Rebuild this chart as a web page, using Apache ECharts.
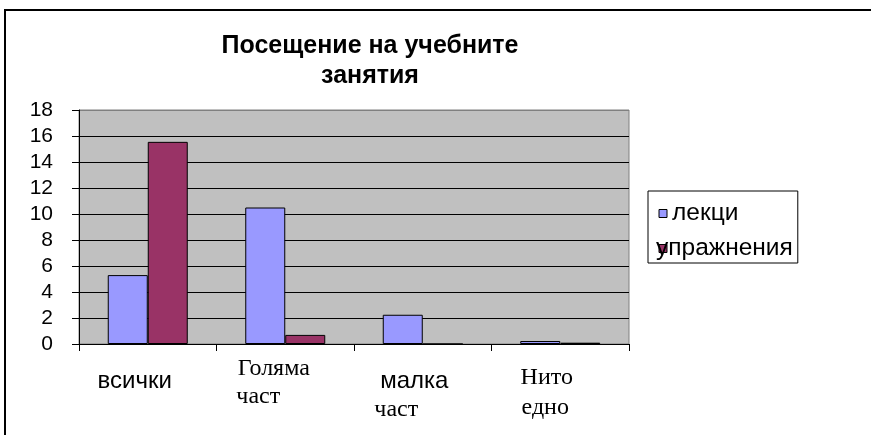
<!DOCTYPE html>
<html>
<head>
<meta charset="utf-8">
<script src="https://cdn.jsdelivr.net/npm/echarts@6/dist/echarts.min.js"></script>
<style>
html,body{margin:0;padding:0;background:#fff;}
#chart{width:871px;height:435px;}
</style>
</head>
<body>
<div id="chart"></div>
<script>
// ---- data ----
const titleText = 'Посещение на учебните\nзанятия';
const categories = ['всички', 'Голяма част', 'малка част', 'Нито едно'];
const seriesNames = ['лекци', 'упражнения'];
const lekci = [5.3, 10.5, 2.25, 0.23];
const uprazhnenia = [15.55, 0.7, 0, 0.1];
const yMin = 0, yMax = 18, yStep = 2;

// ---- x label rich text (mixed fonts as in the original) ----
const xLabelRich = [
  '{sans|всички}{g0| }',
  '{ser1|Голяма}{g1| }\n{ser2|част}{g2| }',
  '{sans3|малка}{g3| }\n{ser4|част}{g4| }',
  '{ser5|Нито}{g5| }\n{ser6|едно}{g6| }'
];

const chart = echarts.init(document.getElementById('chart'), null, {renderer: 'canvas'});
const splitColors = [];
for (let v = yMin; v <= yMax; v += yStep) splitColors.push(v === yMax ? '#808080' : '#000000');

chart.setOption({
  animation: false,
  backgroundColor: '#ffffff',
  title: {
    text: titleText,
    left: 370,
    top: 31,
    textAlign: 'center',
    padding: 0,
    textStyle: {fontFamily: 'Liberation Sans', fontWeight: 'bold', fontSize: 25, lineHeight: 30, color: '#000'}
  },
  legend: {
    orient: 'vertical',
    left: 648,
    top: 191,
    padding: [10, 5, 2, 8],
    itemWidth: 8,
    itemHeight: 8,
    itemGap: 10,
    borderColor: '#000',
    borderWidth: 1,
    backgroundColor: '#fff',
    icon: 'rect',
    itemStyle: {borderColor: '#000', borderWidth: 1},
    textStyle: {fontFamily: 'Liberation Sans', fontSize: 24.5, lineHeight: 24, color: '#000'},
    data: [
      {name: seriesNames[0]},
      {name: seriesNames[1], textStyle: {padding: [0, 0, 0, -16]}}
    ]
  },
  grid: {
    left: 79, top: 110, width: 550, height: 234,
    show: true, backgroundColor: '#C0C0C0', borderColor: '#808080', borderWidth: 1,
    containLabel: false
  },
  xAxis: {
    type: 'category',
    data: categories,
    boundaryGap: true,
    axisLine: {show: true, lineStyle: {color: '#000', width: 1}},
    axisTick: {show: true, length: 7, alignWithLabel: false, lineStyle: {color: '#000'}},
    axisLabel: {
      margin: 10,
      interval: 0,
      align: 'center',
      verticalAlign: 'top',
      color: '#000',
      formatter: function (v, i) { return xLabelRich[i]; },
      rich: {
        sans: {fontFamily: 'Liberation Sans', fontSize: 24, lineHeight: 54, color: '#000'},
        g0: {width: 26, lineHeight: 54},
        ser1: {fontFamily: 'Liberation Serif', fontSize: 24, lineHeight: 30, color: '#000'},
        g1: {width: 23, lineHeight: 30},
        ser2: {fontFamily: 'Liberation Serif', fontSize: 24, lineHeight: 26, color: '#000'},
        g2: {width: 54, lineHeight: 26},
        sans3: {fontFamily: 'Liberation Sans', fontSize: 24, lineHeight: 54, color: '#000'},
        g3: {width: 17, lineHeight: 54},
        ser4: {fontFamily: 'Liberation Serif', fontSize: 24, lineHeight: 4, color: '#000'},
        g4: {width: 53, lineHeight: 4},
        ser5: {fontFamily: 'Liberation Serif', fontSize: 24, lineHeight: 48, color: '#000'},
        g5: {width: 27, lineHeight: 48},
        ser6: {fontFamily: 'Liberation Serif', fontSize: 24, lineHeight: 12, color: '#000'},
        g6: {width: 30, lineHeight: 12}
      }
    },
    splitLine: {show: false}
  },
  yAxis: {
    type: 'value',
    min: yMin, max: yMax, interval: yStep,
    axisLine: {show: true, lineStyle: {color: '#000', width: 1}},
    axisTick: {show: true, length: 7, lineStyle: {color: '#000'}},
    axisLabel: {margin: 26, color: '#000', fontFamily: 'Liberation Sans', fontSize: 21},
    splitLine: {show: true, lineStyle: {color: splitColors, width: 1}}
  },
  series: [
    {
      name: seriesNames[0], type: 'bar', data: lekci,
      barWidth: 40, barGap: '0%',
      itemStyle: {color: '#9999FF', borderColor: '#000', borderWidth: 1}
    },
    {
      name: seriesNames[1], type: 'bar', data: uprazhnenia,
      barWidth: 40, barGap: '0%',
      itemStyle: {color: '#993366', borderColor: '#000', borderWidth: 1}
    }
  ],
  graphic: [
    {type: 'rect', silent: true, z: 100, shape: {x: 5, y: 10, width: 900, height: 500},
     style: {fill: 'none', stroke: '#000', lineWidth: 2}}
  ]
});
</script>
</body>
</html>
